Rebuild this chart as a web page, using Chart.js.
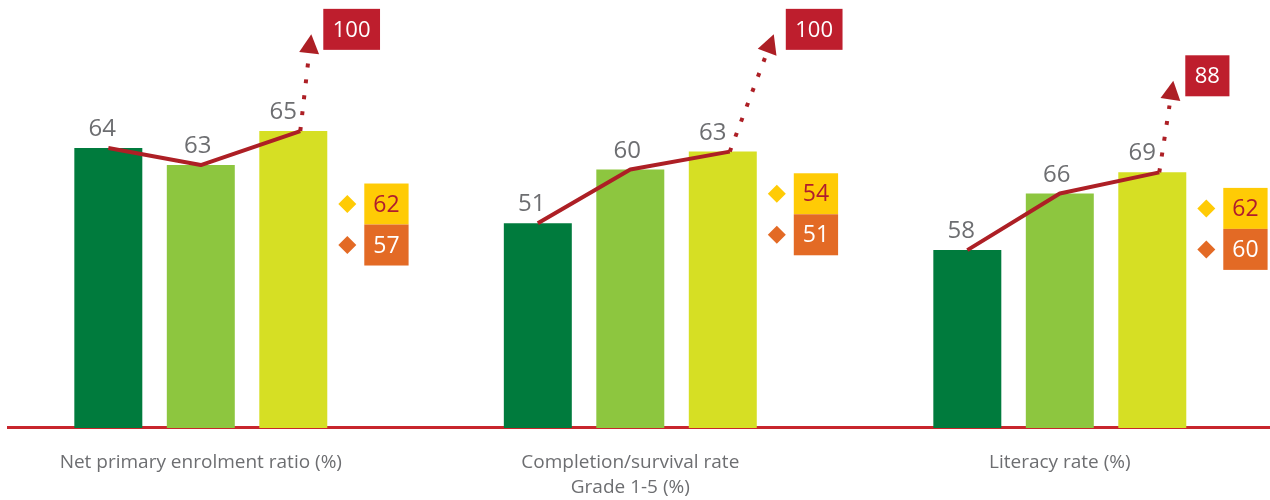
<!DOCTYPE html>
<html><head><meta charset="utf-8">
<script src="https://cdn.jsdelivr.net/npm/chart.js@4/dist/chart.umd.min.js"></script>
<style>html,body{margin:0;padding:0;background:#fff}#wrap{width:1270px;height:500px}</style>
</head><body><div id="wrap"><canvas id="c" width="1270" height="500"></canvas></div>
<script>
// ---- data ----
const categories = ['Net primary enrolment ratio (%)', ['Completion/survival rate', 'Grade 1-5 (%)'], 'Literacy rate (%)'];
const seriesNames = ['Bar 1', 'Bar 2', 'Bar 3'];
const series1 = [64, 51, 58];
const series2 = [63, 60, 66];
const series3 = [65, 63, 69];
const targets = [100, 100, 88];
const yellowMarkers = [62, 54, 62];
const orangeMarkers = [57, 51, 60];

// ---- styles ----
const seriesValues = [series1, series2, series3];
const barColors = ['#007b3d', '#8dc63f', '#d6df24'];
const RED = '#ad1f25';
const FONT = '"Open Sans", "Noto Sans", sans-serif';

const datasets = [];
seriesValues.forEach((vals, s) => vals.forEach((v, g) => datasets.push({
  type: 'bar',
  label: seriesNames[s] + ' – ' + [].concat(categories[g]).join(' '),
  data: [{x: g, y: v}],
  yAxisID: 'y' + g,
  backgroundColor: barColors[s],
  borderWidth: 0,
  categoryPercentage: 0.646,
  barPercentage: 0.735,
  skipNull: true
})));

const overlay = {
  id: 'overlay',
  afterDatasetsDraw(chart, args, opts) {
    const ctx = chart.ctx;
    const bar = (s, g) => chart.getDatasetMeta(s * 3 + g).data[0];
    ctx.save();
    for (let g = 0; g < categories.length; g++) {
      const b = [0, 1, 2].map(s => bar(s, g));
      // value labels
      ctx.font = '24px ' + FONT;
      ctx.fillStyle = '#6d6e71';
      ctx.textAlign = 'center';
      ctx.textBaseline = 'alphabetic';
      b.forEach((e, s) => ctx.fillText(String(seriesValues[s][g]), e.x + opts.labelDx[s], e.y - 12));
      // trend line
      const pts = b.map((e, i) => ({x: e.x + (i === 2 ? 7 : 0), y: e.y}));
      ctx.strokeStyle = RED; ctx.lineWidth = 4; ctx.lineJoin = 'round'; ctx.lineCap = 'butt';
      ctx.beginPath();
      pts.forEach((p, i) => i ? ctx.lineTo(p.x, p.y) : ctx.moveTo(p.x, p.y));
      ctx.stroke();
      // target box
      ctx.font = '22px ' + FONT;
      const tTxt = String(targets[g]);
      const tw = ctx.measureText(tTxt).width + 19;
      const bl = b[2].x + opts.targetDx[g];
      const cy = chart.scales.yT.getPixelForValue(targets[g]);
      ctx.fillStyle = '#be1e2d';
      ctx.fillRect(bl, cy - 20.5, tw, 41);
      ctx.fillStyle = '#ffffff';
      ctx.textBaseline = 'middle';
      ctx.fillText(tTxt, bl + tw / 2, cy + 1);
      // dotted arrow
      const P = pts[2], T = {x: bl - 12, y: cy + 5};
      const dx = T.x - P.x, dy = T.y - P.y, len = Math.hypot(dx, dy), ux = dx / len, uy = dy / len;
      const headLen = 19, headW = 20;
      const bx = T.x - ux * headLen, by = T.y - uy * headLen;
      ctx.setLineDash([4, 12]);
      ctx.strokeStyle = RED; ctx.lineWidth = 4;
      ctx.beginPath(); ctx.moveTo(P.x, P.y); ctx.lineTo(bx - ux * 6, by - uy * 6); ctx.stroke();
      ctx.setLineDash([]);
      ctx.fillStyle = RED;
      ctx.beginPath();
      ctx.moveTo(T.x, T.y);
      ctx.lineTo(bx - uy * headW / 2, by + ux * headW / 2);
      ctx.lineTo(bx + uy * headW / 2, by - ux * headW / 2);
      ctx.closePath(); ctx.fill();
      // diamond markers with boxes
      const ys = chart.scales['y' + g];
      const vy = ys.getPixelForValue(yellowMarkers[g]);
      const vo = ys.getPixelForValue(orangeMarkers[g]);
      const mid = (vy + vo) / 2;
      const dX = b[2].x + 54;
      const boxL = dX + 17;
      const items = [
        {v: yellowMarkers[g], c: '#ffcb05', t: '#b01c2e', y: mid - 20.5},
        {v: orangeMarkers[g], c: '#e36a25', t: '#ffffff', y: mid + 20.5}
      ];
      ctx.font = '23px ' + FONT;
      items.forEach(it => {
        ctx.fillStyle = it.c;
        ctx.beginPath();
        ctx.moveTo(dX, it.y - 9); ctx.lineTo(dX + 9, it.y); ctx.lineTo(dX, it.y + 9); ctx.lineTo(dX - 9, it.y);
        ctx.closePath(); ctx.fill();
        const w = ctx.measureText(String(it.v)).width + 18;
        ctx.fillRect(boxL, it.y - 20.5, w, 41);
        ctx.fillStyle = it.t;
        ctx.textBaseline = 'middle';
        ctx.fillText(String(it.v), boxL + w / 2, it.y + 1);
      });
    }
    ctx.restore();
  }
};

const hiddenY = (min, max) => ({type: 'linear', display: false, min, max, bounds: 'data'});

new Chart(document.getElementById('c'), {
  type: 'bar',
  data: {datasets},
  options: {
    responsive: false,
    animation: false,
    layout: {padding: {left: 8, top: 10, right: 0, bottom: -22}},
    plugins: {
      legend: {display: false},
      tooltip: {enabled: false},
      overlay: {labelDx: [-6, -3, -10], targetDx: [30, 63, 33]}
    },
    scales: {
      x: {
        type: 'linear', min: -0.4489, max: 2.4894, bounds: 'data', offset: false,
        grid: {display: false, drawTicks: false},
        border: {display: true, color: '#c8262d', width: 3},
        afterBuildTicks: axis => { axis.ticks = categories.map((_, i) => ({value: i})); },
        ticks: {
          callback: v => categories[v],
          font: {family: FONT, size: 19, lineHeight: 1.316},
          color: '#6d6e71', padding: 22, maxRotation: 0, autoSkip: false
        }
      },
      y0: hiddenY(47.53, 72.12),
      y1: hiddenY(16.7, 86.72),
      y2: hiddenY(32.84, 91.96),
      yT: hiddenY(-3, 105)
    }
  },
  plugins: [overlay]
});
</script>
</body></html>
